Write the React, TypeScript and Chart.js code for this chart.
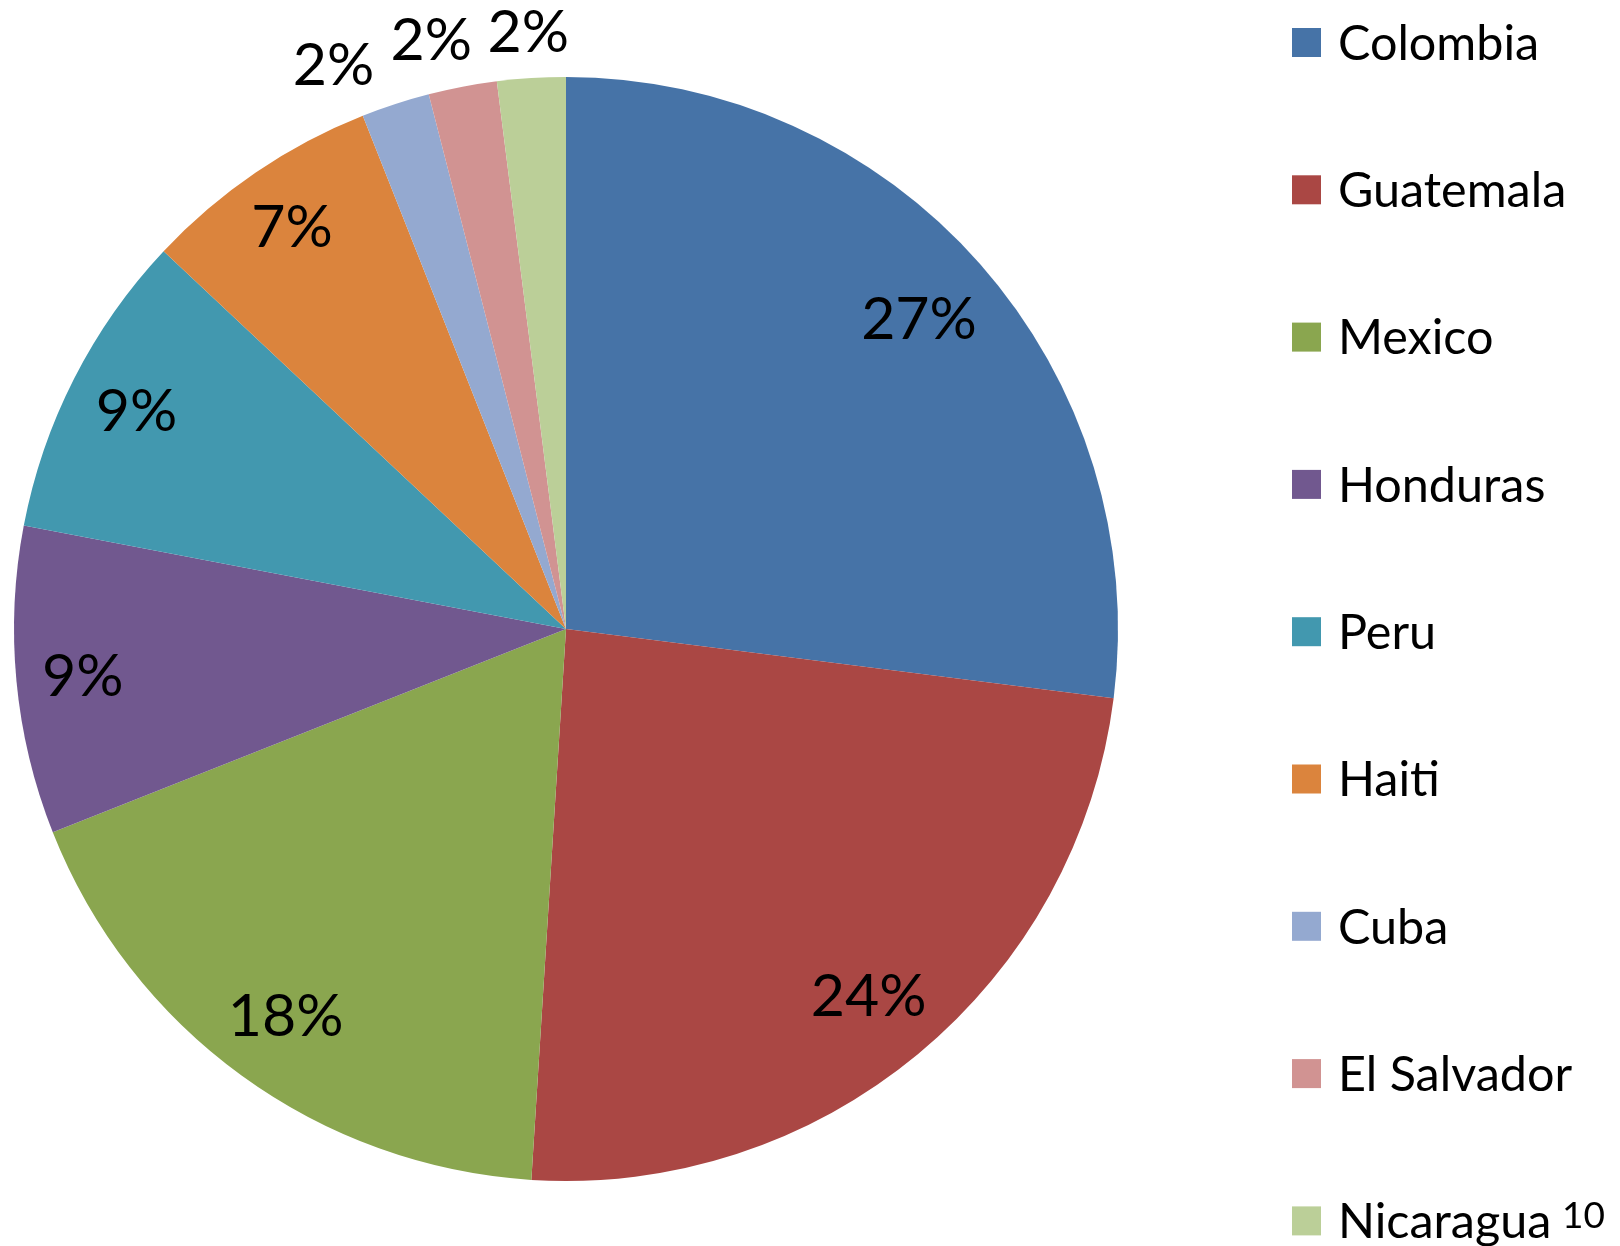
import React, { useEffect, useRef } from "react";
import { Chart, registerables } from "chart.js";

Chart.register(...registerables);

const countries = ["Colombia", "Guatemala", "Mexico", "Honduras", "Peru", "Haiti", "Cuba", "El Salvador", "Nicaragua"];
const shares = [27, 24, 18, 9, 9, 7, 2, 2, 2];
const sliceColors = ["#4673A7", "#AA4744", "#8AA64F", "#71588F", "#4298AF", "#DB843D", "#94A9D0", "#D19392", "#BBCF98"];
const pageNumber = "10";

const FONT = "Lato, 'Liberation Sans', sans-serif";
const LABEL_SIZE = 59;
const CAP = 0.7165;

type Box = { l: number; r: number; t: number; b: number };

const sliceLabelPlugin = {
  id: "sliceLabels",
  afterDatasetsDraw(chart: any) {
    const ctx: CanvasRenderingContext2D = chart.ctx;
    const meta = chart.getDatasetMeta(0);
    const data: number[] = chart.data.datasets[0].data;
    const total = data.reduce((a, b) => a + b, 0);
    ctx.save();
    ctx.font = `${LABEL_SIZE}px ${FONT}`;
    ctx.fillStyle = "#000";
    ctx.textAlign = "center";
    ctx.textBaseline = "alphabetic";
    const h = LABEL_SIZE * CAP;
    const placed: Box[] = [];
    const gap = 14;
    const order = meta.data.map((_: any, i: number) => i).reverse();
    const positions: { x: number; y: number; text: string }[] = [];
    for (const i of order) {
      const arc = meta.data[i];
      const p = arc.getProps(["x", "y", "startAngle", "endAngle", "outerRadius"], true);
      const pct = (data[i] / total) * 100;
      const text = Math.round(pct) + "%";
      const w = ctx.measureText(text).width;
      let a = (p.startAngle + p.endAngle) / 2;
      const R = p.outerRadius;
      const place = (ang: number, inside: boolean) => {
        const ext = Math.abs(Math.cos(ang)) * w / 2 + Math.abs(Math.sin(ang)) * h / 2;
        const r = inside ? R - 24 - ext : R + 24 + ext;
        const cx = p.x + Math.cos(ang) * r;
        const cy = p.y + Math.sin(ang) * r;
        return { cx, cy, box: { l: cx - w / 2, r: cx + w / 2, t: cy - h / 2, b: cy + h / 2 } };
      };
      const inside = pct >= 5;
      let res = place(a, inside);
      if (!inside) {
        const hit = (bx: Box) =>
          placed.some((q) => bx.l < q.r + gap && bx.r > q.l - gap && bx.t < q.b + gap && bx.b > q.t - gap);
        let guard = 0;
        while (hit(res.box) && guard < 400) {
          a -= 0.004;
          res = place(a, inside);
          guard++;
        }
        placed.push(res.box);
      }
      positions.push({ x: res.cx, y: res.cy, text });
    }
    for (const q of positions) {
      ctx.fillText(q.text, q.x, q.y + h / 2);
    }
    ctx.restore();
  },
};

const legendPlugin = {
  id: "sideLegend",
  afterDraw(chart: any) {
    const ctx: CanvasRenderingContext2D = chart.ctx;
    const labels: string[] = chart.data.labels;
    const colors: string[] = chart.data.datasets[0].backgroundColor;
    ctx.save();
    const size = 48.5;
    ctx.font = `${size}px ${FONT}`;
    ctx.textAlign = "left";
    ctx.textBaseline = "alphabetic";
    const x0 = 1292;
    const sq = 29;
    const y0 = 42.5;
    const step = 147.3;
    labels.forEach((lab, i) => {
      const cy = y0 + i * step;
      ctx.fillStyle = colors[i];
      ctx.fillRect(x0, cy - sq / 2, sq, sq);
      ctx.fillStyle = "#000";
      ctx.fillText(lab, 1338, cy + (size * CAP) / 2);
    });
    ctx.font = `37px ${FONT}`;
    ctx.fillStyle = "#000";
    ctx.fillText(pageNumber, 1562, 1228);
    ctx.restore();
  },
};

export default function App() {
  const ref = useRef<HTMLCanvasElement | null>(null);
  useEffect(() => {
    if (!ref.current) return;
    const chart = new Chart(ref.current, {
      type: "pie",
      data: {
        labels: countries,
        datasets: [
          {
            data: shares,
            backgroundColor: sliceColors,
            borderWidth: 0,
          },
        ],
      },
      options: {
        responsive: false,
        animation: false,
        radius: 552,
        layout: { padding: { left: 14, top: 77, right: 502, bottom: 65 } },
        plugins: {
          legend: { display: false },
          tooltip: { enabled: false },
          title: { display: false },
        },
      } as any,
      plugins: [sliceLabelPlugin, legendPlugin],
    });
    return () => chart.destroy();
  }, []);
  return (
    <div style={{ position: "absolute", left: 0, top: 0, width: 1620, height: 1246, background: "#fff" }}>
      <canvas ref={ref} width={1620} height={1246} style={{ width: 1620, height: 1246, display: "block" }} />
    </div>
  );
}
